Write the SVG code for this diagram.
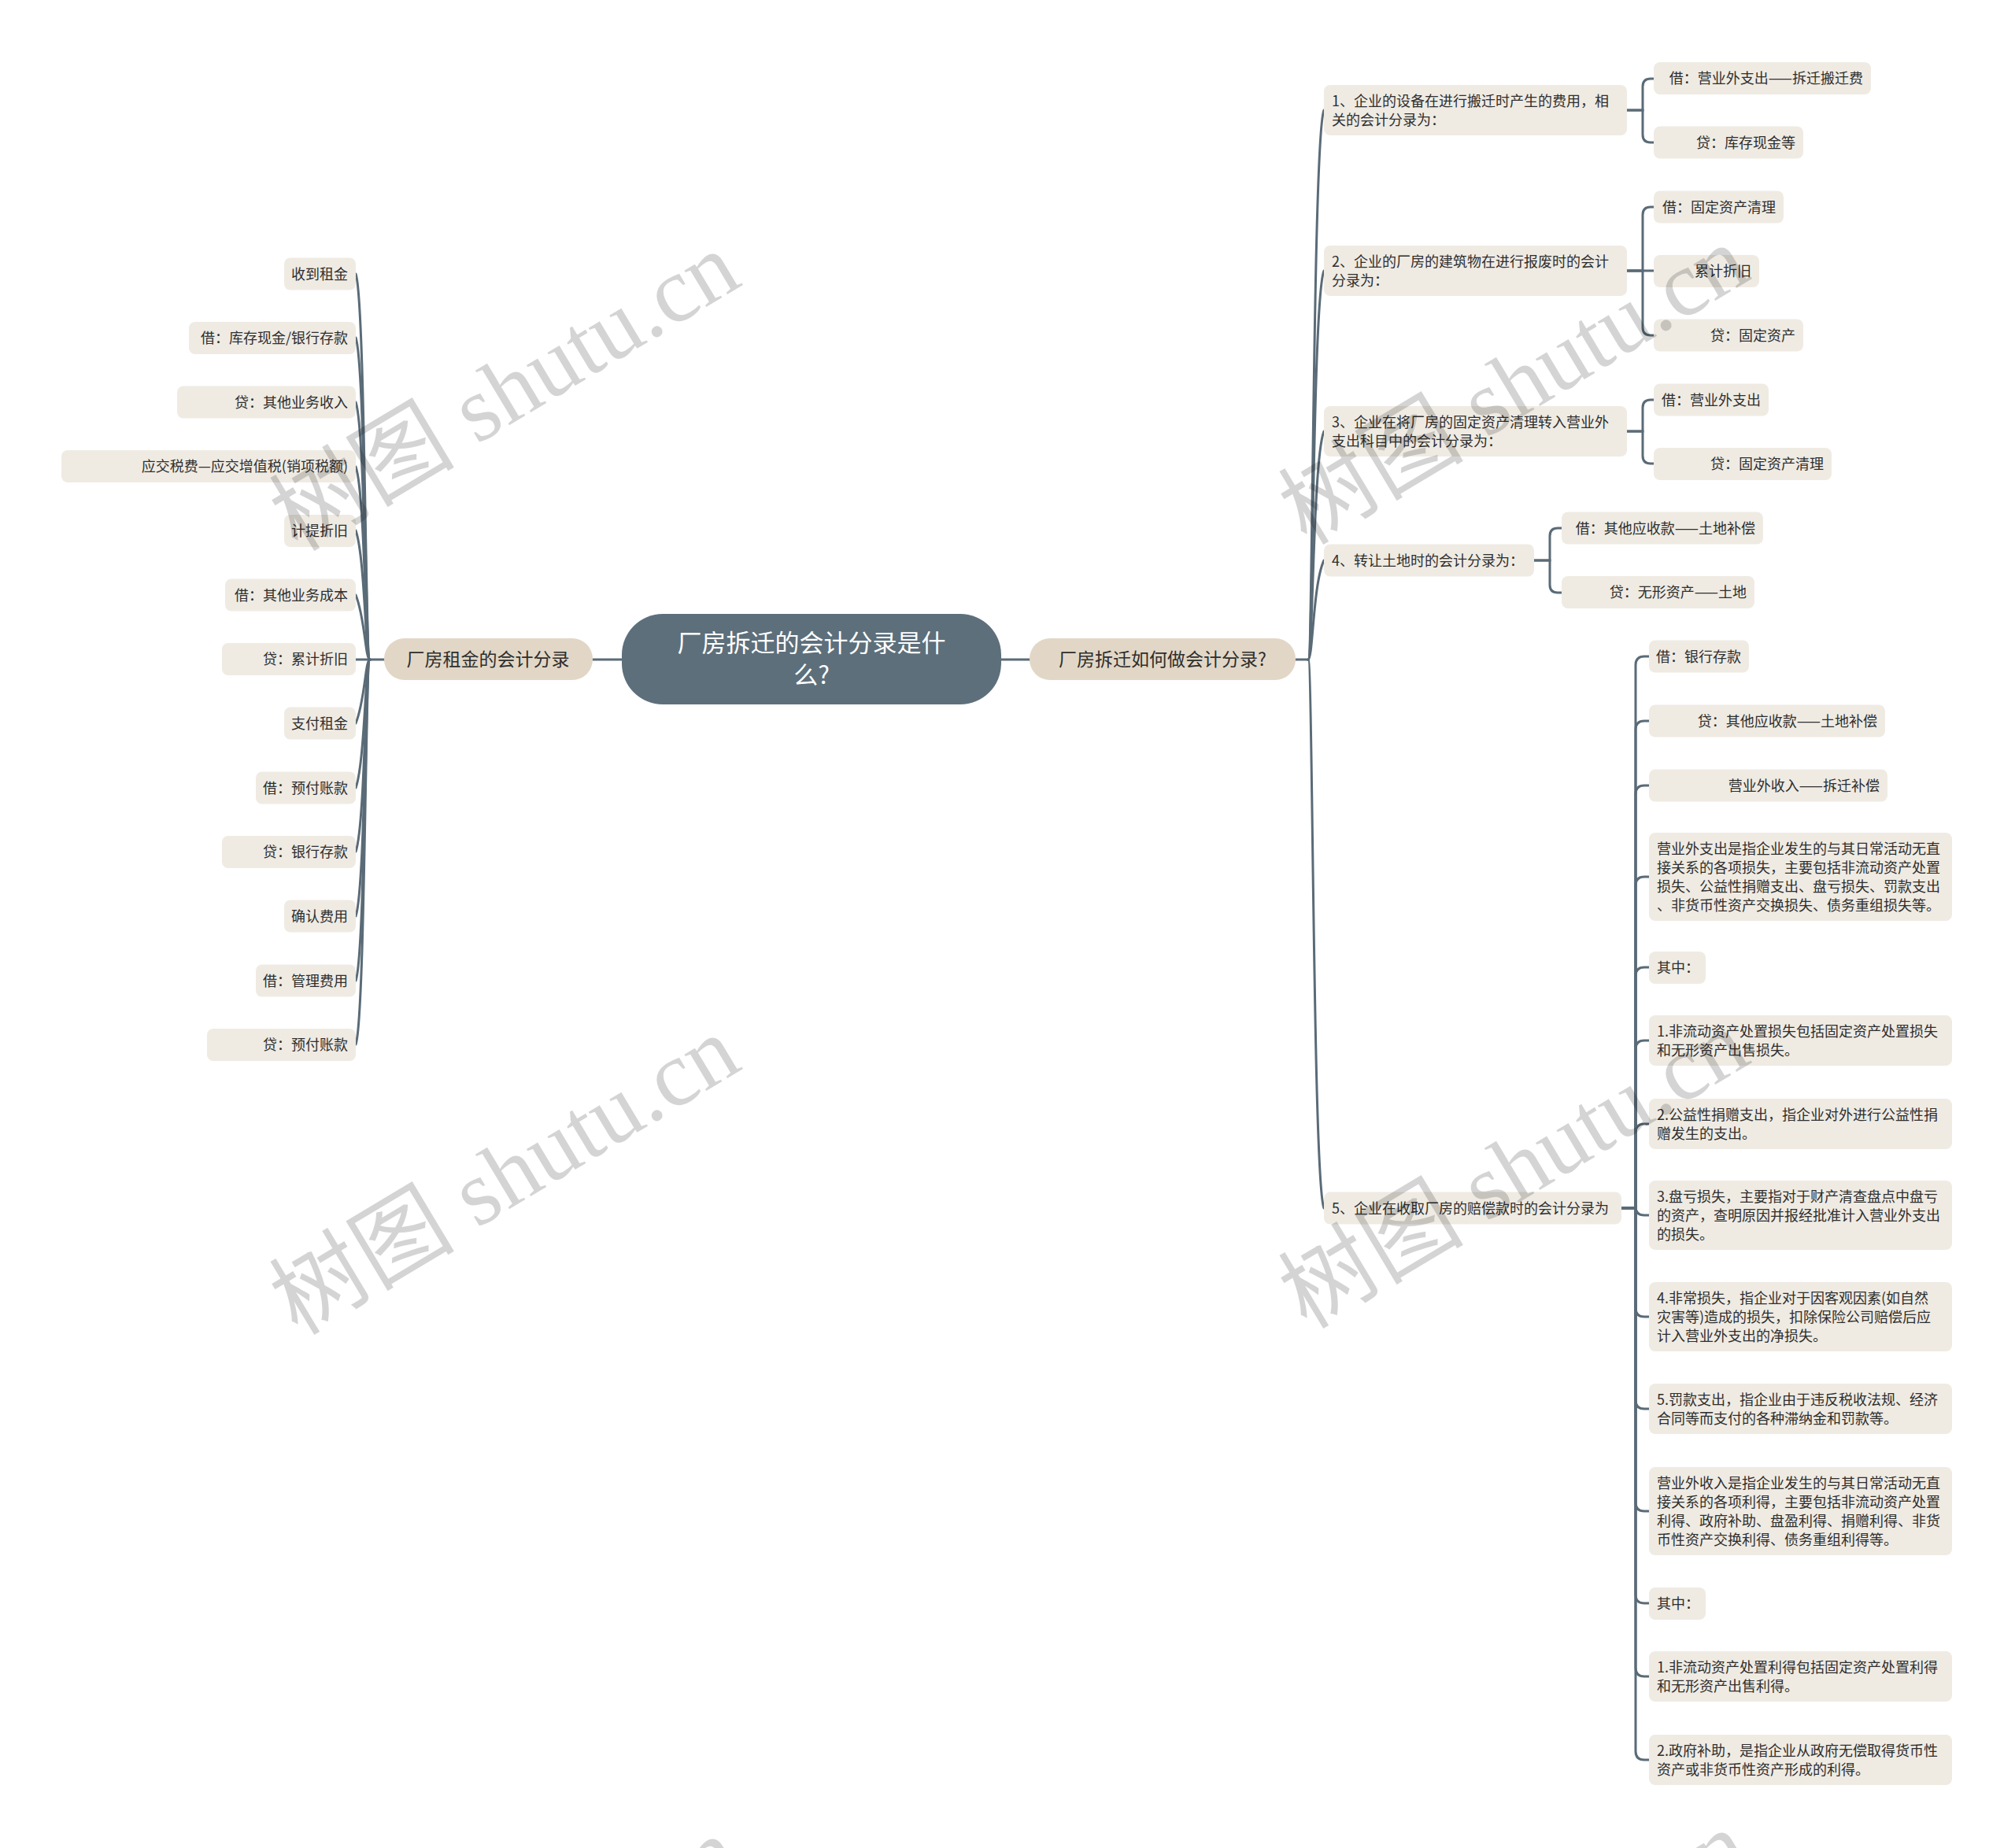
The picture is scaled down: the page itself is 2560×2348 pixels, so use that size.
<svg xmlns="http://www.w3.org/2000/svg" width="2560" height="2348" viewBox="0 0 2560 2348">
<style>
text{font-family:"Noto Sans CJK SC","Liberation Sans",sans-serif;fill:#2e2e2e}
.leaf{fill:#efebe3}
.main{fill:#e2d7c6}
.t18{font-size:18px}
.t23{font-size:23px}
.r{text-anchor:end}
.c{text-anchor:middle}
.ln{fill:none;stroke:#5a6b77;stroke-width:3;stroke-linecap:round}
.wm{font-family:"Liberation Serif","Noto Sans CJK SC",serif;font-size:118px;fill:#000;fill-opacity:0.17}
</style>
<rect width="2560" height="2348" fill="#fff"/>

<g id="connectors">
  <path class="ln" d="M790 838 H753"/>
  <path class="ln" d="M1272 838 H1308"/>
  <path class="ln" d="M488 838 H470"/>
  <path class="ln" d="M1646 838 H1662"/>
  <path class="ln" d="M470 838 C464 838 464 383 452 348"/>
  <path class="ln" d="M470 838 C464 838 464 464 452 429"/>
  <path class="ln" d="M470 838 C464 838 464 546 452 511"/>
  <path class="ln" d="M470 838 C464 838 464 628 452 593"/>
  <path class="ln" d="M470 838 C464 838 464 709 452 674"/>
  <path class="ln" d="M470 838 C464 838 464 786 452 756"/>
  <path class="ln" d="M470 838 H452"/>
  <path class="ln" d="M470 838 C464 838 464 889 452 919"/>
  <path class="ln" d="M470 838 C464 838 464 966 452 1001"/>
  <path class="ln" d="M470 838 C464 838 464 1047 452 1082"/>
  <path class="ln" d="M470 838 C464 838 464 1129 452 1164"/>
  <path class="ln" d="M470 838 C464 838 464 1211 452 1246"/>
  <path class="ln" d="M470 838 C464 838 464 1292 452 1327"/>
  <path class="ln" d="M1662 838 C1668 838 1668 175 1682 140"/>
  <path class="ln" d="M1662 838 C1668 838 1668 379 1682 344"/>
  <path class="ln" d="M1662 838 C1668 838 1668 583 1682 548"/>
  <path class="ln" d="M1662 838 C1668 838 1668 742 1682 712"/>
  <path class="ln" d="M1662 838 C1668 838 1668 1500 1682 1535"/>
  <path class="ln" d="M2067 140 H2087 V110 Q2087 100 2097 100 H2101"/>
  <path class="ln" d="M2067 140 H2087 V171 Q2087 181 2097 181 H2101"/>
  <path class="ln" d="M2067 344 H2087 V273 Q2087 263 2097 263 H2101"/>
  <path class="ln" d="M2067 344 H2101"/>
  <path class="ln" d="M2067 344 H2087 V416 Q2087 426 2097 426 H2101"/>
  <path class="ln" d="M2067 548 H2087 V518 Q2087 508 2097 508 H2101"/>
  <path class="ln" d="M2067 548 H2087 V579 Q2087 589 2097 589 H2101"/>
  <path class="ln" d="M1949 712 H1969 V681 Q1969 671 1979 671 H1984"/>
  <path class="ln" d="M1949 712 H1969 V743 Q1969 753 1979 753 H1984"/>
  <path class="ln" d="M2060 1535 H2078 V845 Q2078 834 2089 834 H2095"/>
  <path class="ln" d="M2060 1535 H2078 V927 Q2078 916 2089 916 H2095"/>
  <path class="ln" d="M2060 1535 H2078 V1009 Q2078 998 2089 998 H2095"/>
  <path class="ln" d="M2060 1535 H2078 V1125 Q2078 1114 2089 1114 H2095"/>
  <path class="ln" d="M2060 1535 H2078 V1240 Q2078 1229 2089 1229 H2095"/>
  <path class="ln" d="M2060 1535 H2078 V1333 Q2078 1322 2089 1322 H2095"/>
  <path class="ln" d="M2060 1535 H2078 V1439 Q2078 1428 2089 1428 H2095"/>
  <path class="ln" d="M2060 1535 H2078 V1533 Q2078 1544 2089 1544 H2095"/>
  <path class="ln" d="M2060 1535 H2078 V1662 Q2078 1673 2089 1673 H2095"/>
  <path class="ln" d="M2060 1535 H2078 V1779 Q2078 1790 2089 1790 H2095"/>
  <path class="ln" d="M2060 1535 H2078 V1909 Q2078 1920 2089 1920 H2095"/>
  <path class="ln" d="M2060 1535 H2078 V2026 Q2078 2037 2089 2037 H2095"/>
  <path class="ln" d="M2060 1535 H2078 V2119 Q2078 2130 2089 2130 H2095"/>
  <path class="ln" d="M2060 1535 H2078 V2225 Q2078 2236 2089 2236 H2095"/>
</g>

<g id="root">
  <rect x="790" y="780" width="482" height="115" rx="52" fill="#5d6f7b"/>
  <text class="c" x="1031" y="828" style="font-size:31px;fill:#fff">厂房拆迁的会计分录是什</text>
  <text class="c" x="1031" y="869" style="font-size:31px;fill:#fff">么?</text>
</g>

<g id="main-left">
  <rect class="main" x="488" y="811" width="265" height="53" rx="26"/>
  <text class="c t23" x="620" y="846">厂房租金的会计分录</text>
</g>
<g id="main-right">
  <rect class="main" x="1308" y="811" width="338" height="53" rx="26"/>
  <text class="c t23" x="1477" y="846">厂房拆迁如何做会计分录?</text>
</g>

<g id="left-leaves" class="t18">
  <g id="l1"><rect class="leaf" x="361" y="327.5" width="91" height="41" rx="8"/><text class="r" x="442" y="354.5">收到租金</text></g>
  <g id="l2"><rect class="leaf" x="240" y="409" width="212" height="41" rx="8"/><text class="r" x="442" y="436">借：库存现金/银行存款</text></g>
  <g id="l3"><rect class="leaf" x="225" y="490.5" width="227" height="41" rx="8"/><text class="r" x="442" y="517.5">贷：其他业务收入</text></g>
  <g id="l4"><rect class="leaf" x="78" y="572" width="374" height="41" rx="8"/><text class="r" x="442" y="599">应交税费—应交增值税(销项税额)</text></g>
  <g id="l5"><rect class="leaf" x="361" y="654" width="91" height="41" rx="8"/><text class="r" x="442" y="681">计提折旧</text></g>
  <g id="l6"><rect class="leaf" x="286" y="735.5" width="166" height="41" rx="8"/><text class="r" x="442" y="762.5">借：其他业务成本</text></g>
  <g id="l7"><rect class="leaf" x="282" y="817" width="170" height="41" rx="8"/><text class="r" x="442" y="844">贷：累计折旧</text></g>
  <g id="l8"><rect class="leaf" x="361" y="898.5" width="91" height="41" rx="8"/><text class="r" x="442" y="925.5">支付租金</text></g>
  <g id="l9"><rect class="leaf" x="325" y="980.5" width="127" height="41" rx="8"/><text class="r" x="442" y="1007.5">借：预付账款</text></g>
  <g id="l10"><rect class="leaf" x="282" y="1062" width="170" height="41" rx="8"/><text class="r" x="442" y="1089">贷：银行存款</text></g>
  <g id="l11"><rect class="leaf" x="361" y="1143.5" width="91" height="41" rx="8"/><text class="r" x="442" y="1170.5">确认费用</text></g>
  <g id="l12"><rect class="leaf" x="325" y="1225.5" width="127" height="41" rx="8"/><text class="r" x="442" y="1252.5">借：管理费用</text></g>
  <g id="l13"><rect class="leaf" x="263" y="1307" width="189" height="41" rx="8"/><text class="r" x="442" y="1334">贷：预付账款</text></g>
</g>

<g id="right-level2" class="t18">
  <g id="r1"><rect class="leaf" x="1682" y="108" width="385" height="64" rx="8"/><text x="1692" y="134.5">1、企业的设备在进行搬迁时产生的费用，相</text><text x="1692" y="158.5">关的会计分录为：</text></g>
  <g id="r2"><rect class="leaf" x="1682" y="312" width="385" height="64" rx="8"/><text x="1692" y="338.5">2、企业的厂房的建筑物在进行报废时的会计</text><text x="1692" y="362.5">分录为：</text></g>
  <g id="r3"><rect class="leaf" x="1682" y="516" width="385" height="64" rx="8"/><text x="1692" y="542.5">3、企业在将厂房的固定资产清理转入营业外</text><text x="1692" y="566.5">支出科目中的会计分录为：</text></g>
  <g id="r4"><rect class="leaf" x="1682" y="691.5" width="267" height="41" rx="8"/><text x="1692" y="718.5">4、转让土地时的会计分录为：</text></g>
  <g id="r5"><rect class="leaf" x="1682" y="1514.5" width="378" height="41" rx="8"/><text x="1692" y="1541.5">5、企业在收取厂房的赔偿款时的会计分录为</text></g>
</g>

<g id="right-level3" class="t18">
  <g id="r1a"><rect class="leaf" x="2101" y="79" width="276" height="41" rx="8"/><text class="r" x="2367" y="106">借：营业外支出——拆迁搬迁费</text></g>
  <g id="r1b"><rect class="leaf" x="2101" y="160.5" width="190" height="41" rx="8"/><text class="r" x="2281" y="187.5">贷：库存现金等</text></g>
  <g id="r2a"><rect class="leaf" x="2101" y="242.5" width="165" height="41" rx="8"/><text class="r" x="2256" y="269.5">借：固定资产清理</text></g>
  <g id="r2b"><rect class="leaf" x="2101" y="324" width="134" height="41" rx="8"/><text class="r" x="2225" y="351">累计折旧</text></g>
  <g id="r2c"><rect class="leaf" x="2101" y="405.5" width="190" height="41" rx="8"/><text class="r" x="2281" y="432.5">贷：固定资产</text></g>
  <g id="r3a"><rect class="leaf" x="2101" y="487.5" width="146" height="41" rx="8"/><text class="r" x="2237" y="514.5">借：营业外支出</text></g>
  <g id="r3b"><rect class="leaf" x="2101" y="569" width="226" height="41" rx="8"/><text class="r" x="2317" y="596">贷：固定资产清理</text></g>
  <g id="r4a"><rect class="leaf" x="1984" y="650.5" width="256" height="41" rx="8"/><text class="r" x="2230" y="677.5">借：其他应收款——土地补偿</text></g>
  <g id="r4b"><rect class="leaf" x="1984" y="732" width="245" height="41" rx="8"/><text class="r" x="2219" y="759">贷：无形资产——土地</text></g>

  <g id="r5a"><rect class="leaf" x="2095" y="813.5" width="127" height="41" rx="8"/><text class="r" x="2212" y="840.5">借：银行存款</text></g>
  <g id="r5b"><rect class="leaf" x="2095" y="895.5" width="300" height="41" rx="8"/><text class="r" x="2385" y="922.5">贷：其他应收款——土地补偿</text></g>
  <g id="r5c"><rect class="leaf" x="2095" y="977.5" width="303" height="41" rx="8"/><text class="r" x="2388" y="1004.5">营业外收入——拆迁补偿</text></g>
  <g id="r5d"><rect class="leaf" x="2095" y="1058" width="385" height="112" rx="8"/>
    <text x="2105" y="1084.5">营业外支出是指企业发生的与其日常活动无直</text>
    <text x="2105" y="1108.5">接关系的各项损失，主要包括非流动资产处置</text>
    <text x="2105" y="1132.5">损失、公益性捐赠支出、盘亏损失、罚款支出</text>
    <text x="2105" y="1156.5">、非货币性资产交换损失、债务重组损失等。</text></g>
  <g id="r5e"><rect class="leaf" x="2095" y="1209" width="72" height="41" rx="8"/><text x="2105" y="1236">其中：</text></g>
  <g id="r5f"><rect class="leaf" x="2095" y="1290" width="385" height="64" rx="8"/>
    <text x="2105" y="1316.5">1.非流动资产处置损失包括固定资产处置损失</text>
    <text x="2105" y="1340.5">和无形资产出售损失。</text></g>
  <g id="r5g"><rect class="leaf" x="2095" y="1396" width="385" height="64" rx="8"/>
    <text x="2105" y="1422.5">2.公益性捐赠支出，指企业对外进行公益性捐</text>
    <text x="2105" y="1446.5">赠发生的支出。</text></g>
  <g id="r5h"><rect class="leaf" x="2095" y="1500" width="385" height="88" rx="8"/>
    <text x="2105" y="1526.5">3.盘亏损失，主要指对于财产清查盘点中盘亏</text>
    <text x="2105" y="1550.5">的资产，查明原因并报经批准计入营业外支出</text>
    <text x="2105" y="1574.5">的损失。</text></g>
  <g id="r5i"><rect class="leaf" x="2095" y="1629" width="385" height="88" rx="8"/>
    <text x="2105" y="1655.5">4.非常损失，指企业对于因客观因素(如自然</text>
    <text x="2105" y="1679.5">灾害等)造成的损失，扣除保险公司赔偿后应</text>
    <text x="2105" y="1703.5">计入营业外支出的净损失。</text></g>
  <g id="r5j"><rect class="leaf" x="2095" y="1758" width="385" height="64" rx="8"/>
    <text x="2105" y="1784.5">5.罚款支出，指企业由于违反税收法规、经济</text>
    <text x="2105" y="1808.5">合同等而支付的各种滞纳金和罚款等。</text></g>
  <g id="r5k"><rect class="leaf" x="2095" y="1864" width="385" height="112" rx="8"/>
    <text x="2105" y="1890.5">营业外收入是指企业发生的与其日常活动无直</text>
    <text x="2105" y="1914.5">接关系的各项利得，主要包括非流动资产处置</text>
    <text x="2105" y="1938.5">利得、政府补助、盘盈利得、捐赠利得、非货</text>
    <text x="2105" y="1962.5">币性资产交换利得、债务重组利得等。</text></g>
  <g id="r5l"><rect class="leaf" x="2095" y="2017" width="72" height="41" rx="8"/><text x="2105" y="2044">其中：</text></g>
  <g id="r5m"><rect class="leaf" x="2095" y="2098" width="385" height="64" rx="8"/>
    <text x="2105" y="2124.5">1.非流动资产处置利得包括固定资产处置利得</text>
    <text x="2105" y="2148.5">和无形资产出售利得。</text></g>
  <g id="r5n"><rect class="leaf" x="2095" y="2204" width="385" height="64" rx="8"/>
    <text x="2105" y="2230.5">2.政府补助，是指企业从政府无偿取得货币性</text>
    <text x="2105" y="2254.5">资产或非货币性资产形成的利得。</text></g>
</g>

<g id="watermarks">
  <text class="wm" transform="translate(378 702) rotate(-31)">树图 shutu.cn</text>
  <text class="wm" transform="translate(378 1698) rotate(-31)">树图 shutu.cn</text>
  <text class="wm" transform="translate(378 2716) rotate(-31)">树图 shutu.cn</text>
  <text class="wm" transform="translate(1660 694) rotate(-31)">树图 shutu.cn</text>
  <text class="wm" transform="translate(1660 1690) rotate(-31)">树图 shutu.cn</text>
  <text class="wm" transform="translate(1660 2708) rotate(-31)">树图 shutu.cn</text>
</g>
</svg>
